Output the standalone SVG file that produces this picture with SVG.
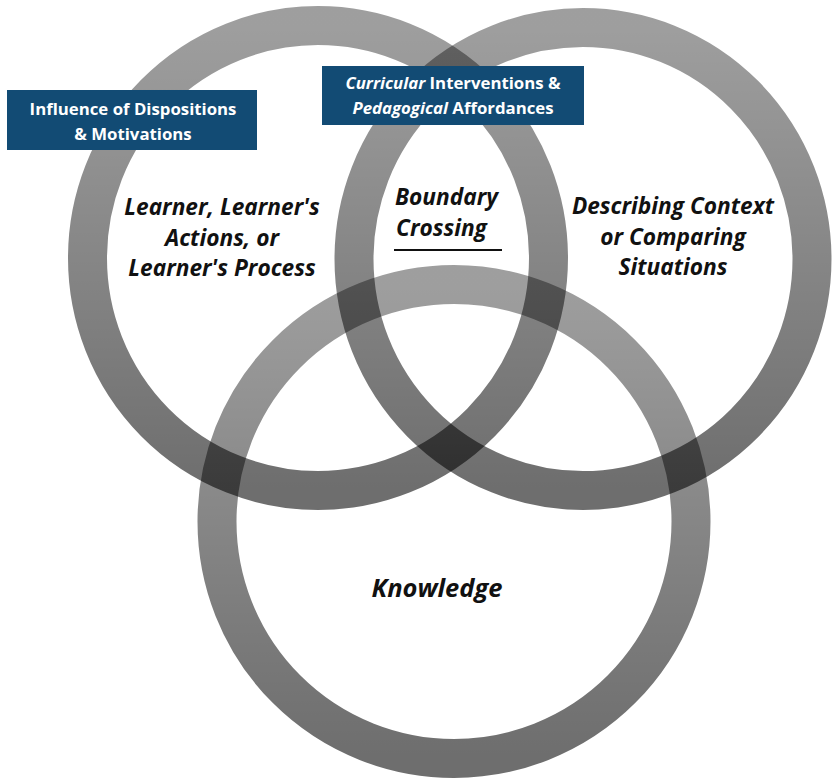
<svg xmlns="http://www.w3.org/2000/svg" width="832" height="780" viewBox="0 0 832 780">
  <defs>
    <linearGradient id="ringGrad" x1="0" y1="0" x2="0" y2="1">
      <stop offset="0" stop-color="#000" stop-opacity="0.38"/>
      <stop offset="1" stop-color="#000" stop-opacity="0.57"/>
    </linearGradient>
    <style>
      .ring { fill: none; stroke: url(#ringGrad); stroke-width: 39; }
      .box { fill: #124b74; }
      .boxtxt { font-family: "Open Sans", "Noto Sans", "Liberation Sans", sans-serif; font-weight: 700; font-size: 16.8px; fill: #ffffff; text-anchor: middle; }
      .lbl { font-family: "Open Sans", "Noto Sans", "Liberation Sans", sans-serif; font-weight: 700; font-style: italic; font-size: 22.7px; fill: #111111; text-anchor: middle; }
      .start { text-anchor: start; }
      .big { font-size: 25.5px; }
    </style>
  </defs>
  <rect width="832" height="780" fill="#ffffff"/>

  <g id="ring-learner">
    <ellipse class="ring" cx="318" cy="258" rx="230.5" ry="232.5"/>
  </g>
  <g id="ring-context">
    <ellipse class="ring" cx="583" cy="259" rx="229" ry="231.5"/>
  </g>
  <g id="ring-knowledge">
    <circle class="ring" cx="454" cy="521.5" r="237"/>
  </g>

  <g id="connectors">
    <line x1="394" y1="250" x2="502" y2="250" stroke="#111111" stroke-width="2.2"/>
  </g>

  <g id="box-dispositions">
    <rect class="box" x="7" y="90" width="250" height="60"/>
    <text class="boxtxt" x="133" y="114.5">Influence of Dispositions</text>
    <text class="boxtxt" x="133" y="139.5">&amp; Motivations</text>
  </g>

  <g id="box-curricular">
    <rect class="box" x="322" y="66" width="262" height="59"/>
    <text class="boxtxt" x="453" y="89"><tspan font-style="italic">Curricular</tspan> Interventions &amp;</text>
    <text class="boxtxt" x="453" y="114"><tspan font-style="italic">Pedagogical</tspan> Affordances</text>
  </g>

  <g id="label-learner">
    <text class="lbl" x="222" y="215">Learner, Learner's</text>
    <text class="lbl" x="222" y="246">Actions, or</text>
    <text class="lbl" x="222" y="276">Learner's Process</text>
  </g>

  <g id="label-boundary">
    <text class="lbl start" x="395" y="205">Boundary</text>
    <text class="lbl start" x="396" y="236">Crossing</text>
  </g>

  <g id="label-context">
    <text class="lbl" x="673" y="214">Describing Context</text>
    <text class="lbl" x="673" y="245">or Comparing</text>
    <text class="lbl" x="673" y="275">Situations</text>
  </g>

  <g id="label-knowledge">
    <text class="lbl big" x="437" y="597">Knowledge</text>
  </g>
</svg>
